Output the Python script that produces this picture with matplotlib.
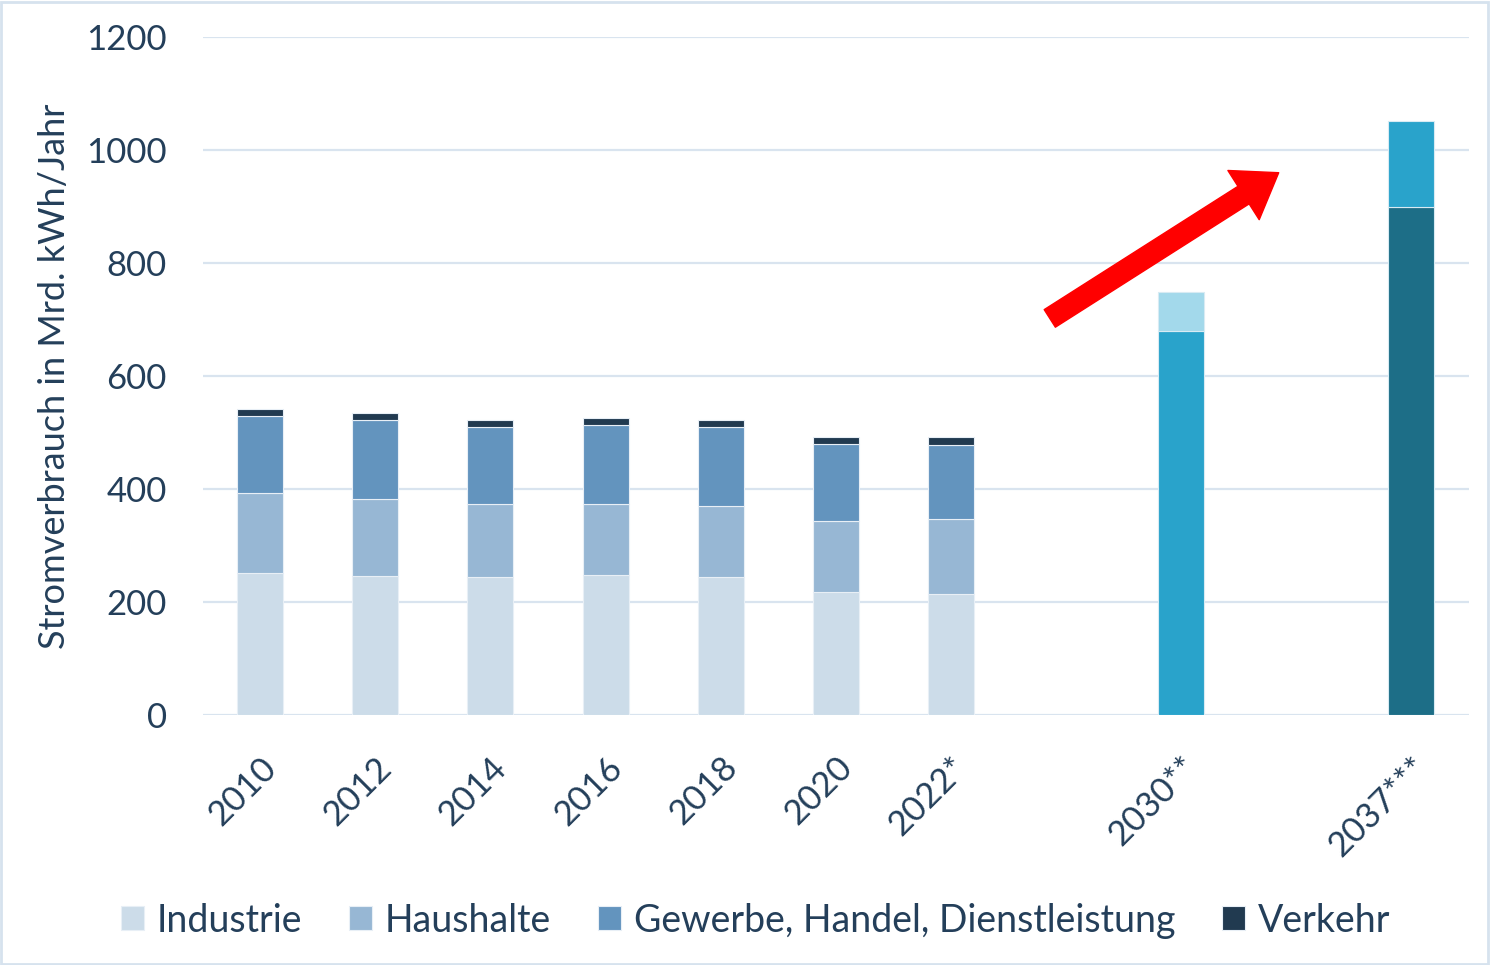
import matplotlib
matplotlib.use("Agg")
import matplotlib.pyplot as plt
from matplotlib.patches import FancyArrowPatch, Rectangle
import numpy as np

# categories (empty strings are the gaps between the groups)
years = ["2010", "2012", "2014", "2016", "2018", "2020", "2022*", "", "2030**", "", "2037***"]

# historic consumption by sector, Mrd. kWh
industrie = [251, 246, 244, 248, 244, 218, 214]
haushalte = [142, 136, 129, 125, 126, 125, 133]
gewerbe = [136, 140, 137, 140, 140, 137, 131]
verkehr = [13, 13, 12, 13, 12, 12, 14]

# projections
proj_base = [680, 899]
proj_top = [69, 152]

legend_labels = ["Industrie", "Haushalte", "Gewerbe, Handel, Dienstleistung", "Verkehr"]

TEXT = "#243f5a"
GRID = "#d9e4ef"
col_sector = ["#ccdce9", "#97b7d4", "#6394be", "#213a50"]

plt.rcParams["font.family"] = ["Lato", "DejaVu Sans"]

fig = plt.figure(figsize=(14.91, 9.65), dpi=100)
ax = fig.add_axes([0.136, 0.259, 0.849, 0.703])

x = np.arange(len(years))
w = 0.4
hist_x = x[:7]
bottom = np.zeros(7)
handles = []
for vals, c, lab in zip([industrie, haushalte, gewerbe, verkehr], col_sector, legend_labels):
    b = ax.bar(hist_x, vals, w, bottom=bottom, color=c, edgecolor="#e8eff6", linewidth=0.8, label=lab, zorder=3)
    handles.append(b)
    bottom += np.array(vals)

proj_x = [x[8], x[10]]
ax.bar(proj_x, proj_base, w, color=["#29a3cb", "#1d6e87"], edgecolor="#d8ebf3", linewidth=0.8, zorder=3)
ax.bar(proj_x, proj_top, w, bottom=proj_base, color=["#a3d9eb", "#29a3cb"], edgecolor="#d8ebf3", linewidth=0.8, zorder=3)

# red trend arrow
arrow = FancyArrowPatch((6.84, 699), (8.87, 962),
                        arrowstyle="simple,head_width=42,head_length=30,tail_width=15",
                        mutation_scale=1, color="#ff0000", zorder=4)
ax.add_patch(arrow)

ax.set_xlim(-0.5, 10.5)
ax.set_ylim(0, 1200)
ax.set_yticks(range(0, 1201, 200))
ax.set_xticks(x)
ax.set_xticklabels(years, rotation=45, ha="right", rotation_mode="anchor")
ax.yaxis.grid(True, color=GRID, linewidth=1.6, zorder=0)
ax.set_axisbelow(True)
for s in ax.spines.values():
    s.set_visible(False)
ax.tick_params(axis="both", length=0, labelsize=25, colors=TEXT)
ax.tick_params(axis="y", pad=26)
ax.tick_params(axis="x", pad=26)
ax.set_ylabel("Stromverbrauch in Mrd. kWh/Jahr", fontsize=26, color=TEXT)
ax.yaxis.set_label_coords(-0.104, 0.5)

fig.legend(handles=handles, labels=legend_labels, loc="center", bbox_to_anchor=(0.507, 0.046),
           ncol=4, frameon=False, fontsize=27, labelcolor=TEXT, handlelength=0.6, handleheight=0.6,
           handletextpad=0.35, columnspacing=1.25)

fig.patches.append(Rectangle((0.001, 0.001), 0.997, 0.997, transform=fig.transFigure,
                             fill=False, edgecolor="#d6e2ee", linewidth=2))

fig.savefig("out.png", dpi=100)
